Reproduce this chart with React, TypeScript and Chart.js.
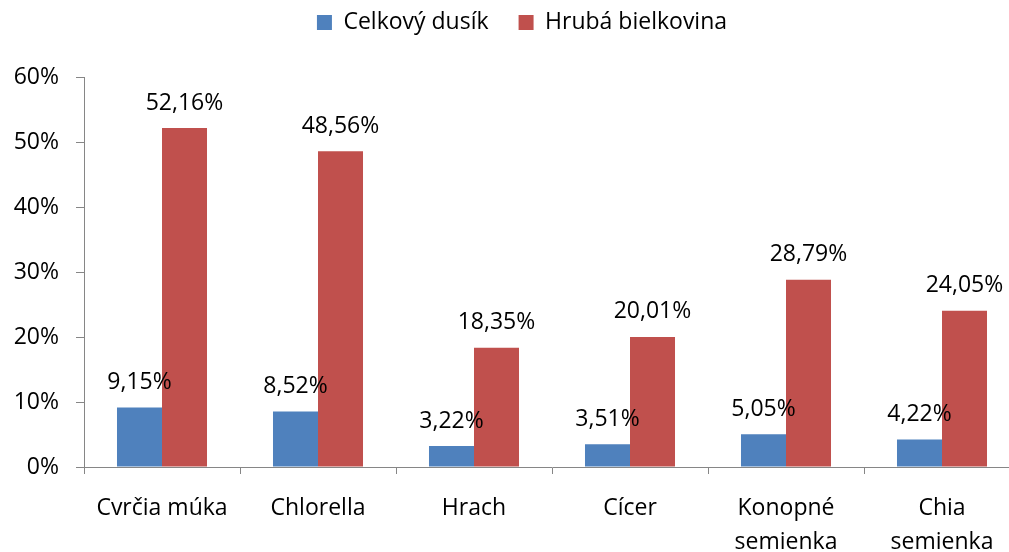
import React, { useEffect, useRef } from "react";
import { Chart, registerables } from "chart.js";

Chart.register(...registerables);

const categories: (string | string[])[] = [
  "Cvrčia múka",
  "Chlorella",
  "Hrach",
  "Cícer",
  ["Konopné", "semienka"],
  ["Chia", "semienka"],
];
const seriesNames = ["Celkový dusík", "Hrubá bielkovina"];
const nitrogen = [9.15, 8.52, 3.22, 3.51, 5.05, 4.22];
const protein = [52.16, 48.56, 18.35, 20.01, 28.79, 24.05];
const yMin = 0;
const yMax = 60;
const yStep = 10;

const FONT = "'Open Sans', sans-serif";
const FONT_SIZE = 23;
const AXIS_COLOR = "#868686";
const BLUE = "#4F81BD";
const RED = "#C0504D";

const fmt = (v: number) => v.toFixed(2).replace(".", ",") + "%";

const LEGEND_PAD = 30;
const LAYOUT_TOP = -19;
const CHART_TOP = 77;

const legendFitPlugin = {
  id: "legendFit",
  beforeInit(chart: any) {
    const legend = chart.legend;
    if (!legend) return;
    const orig = legend.fit;
    legend.fit = function fit() {
      orig.call(this);
      this.height = CHART_TOP - LAYOUT_TOP;
    };
  },
  afterLayout(chart: any) {
    const legend = chart.legend;
    if (!legend) return;
    legend.left += 12;
    legend.right += 12;
  },
};

const dataLabelPlugin = {
  id: "dataLabels",
  afterDatasetsDraw(chart: any) {
    const ctx = chart.ctx;
    ctx.save();
    ctx.font = `${FONT_SIZE}px ${FONT}`;
    ctx.fillStyle = "#000000";
    ctx.textAlign = "center";
    ctx.textBaseline = "middle";
    chart.data.datasets.forEach((ds: any, i: number) => {
      const meta = chart.getDatasetMeta(i);
      meta.data.forEach((el: any, j: number) => {
        ctx.fillText(fmt(ds.data[j]), el.x, el.y - 25);
      });
    });
    ctx.restore();
  },
};

export default function App() {
  const ref = useRef<HTMLCanvasElement | null>(null);

  useEffect(() => {
    if (!ref.current) return;
    const chart = new Chart(ref.current, {
      type: "bar",
      data: {
        labels: categories,
        datasets: [
          {
            label: seriesNames[0],
            data: nitrogen,
            backgroundColor: BLUE,
            borderWidth: 0,
            barPercentage: 1,
            categoryPercentage: 0.577,
          },
          {
            label: seriesNames[1],
            data: protein,
            backgroundColor: RED,
            borderWidth: 0,
            barPercentage: 1,
            categoryPercentage: 0.577,
          },
        ],
      },
      options: {
        responsive: false,
        animation: false,
        devicePixelRatio: 1,
        layout: { padding: { top: LAYOUT_TOP, left: 0, right: 0, bottom: 0 } },
        plugins: {
          legend: {
            display: true,
            position: "top",
            labels: {
              boxWidth: 15,
              boxHeight: 15,
              padding: LEGEND_PAD,
              color: "#000000",
              font: { family: FONT, size: FONT_SIZE },
            },
          },
          tooltip: { enabled: false },
        },
        scales: {
          x: {
            afterFit: (scale: any) => {
              scale.height = 85;
            },
            border: { display: true, color: AXIS_COLOR, width: 1 },
            grid: {
              display: true,
              drawOnChartArea: false,
              drawTicks: true,
              tickLength: 7,
              color: AXIS_COLOR,
              offset: true,
            },
            ticks: {
              color: "#000000",
              padding: 18,
              maxRotation: 0,
              autoSkip: false,
              font: { family: FONT, size: FONT_SIZE, lineHeight: 1.45 },
            },
          },
          y: {
            min: yMin,
            max: yMax,
            afterFit: (scale: any) => {
              scale.width = 84;
            },
            border: { display: true, color: AXIS_COLOR, width: 1 },
            grid: {
              display: true,
              drawOnChartArea: false,
              drawTicks: true,
              tickLength: 8,
              color: AXIS_COLOR,
            },
            ticks: {
              stepSize: yStep,
              color: "#000000",
              padding: 17,
              font: { family: FONT, size: FONT_SIZE },
              callback: (v: any) => `${v}%`,
            },
          },
        },
      },
      plugins: [legendFitPlugin, dataLabelPlugin],
    });
    return () => chart.destroy();
  }, []);

  return (
    <div
      style={{
        position: "fixed",
        left: 0,
        top: 0,
        width: 1009,
        height: 552,
        overflow: "hidden",
        background: "#ffffff",
      }}
    >
      <canvas
        ref={ref}
        width={1020}
        height={552}
        style={{ display: "block", width: 1020, height: 552 }}
      />
    </div>
  );
}
